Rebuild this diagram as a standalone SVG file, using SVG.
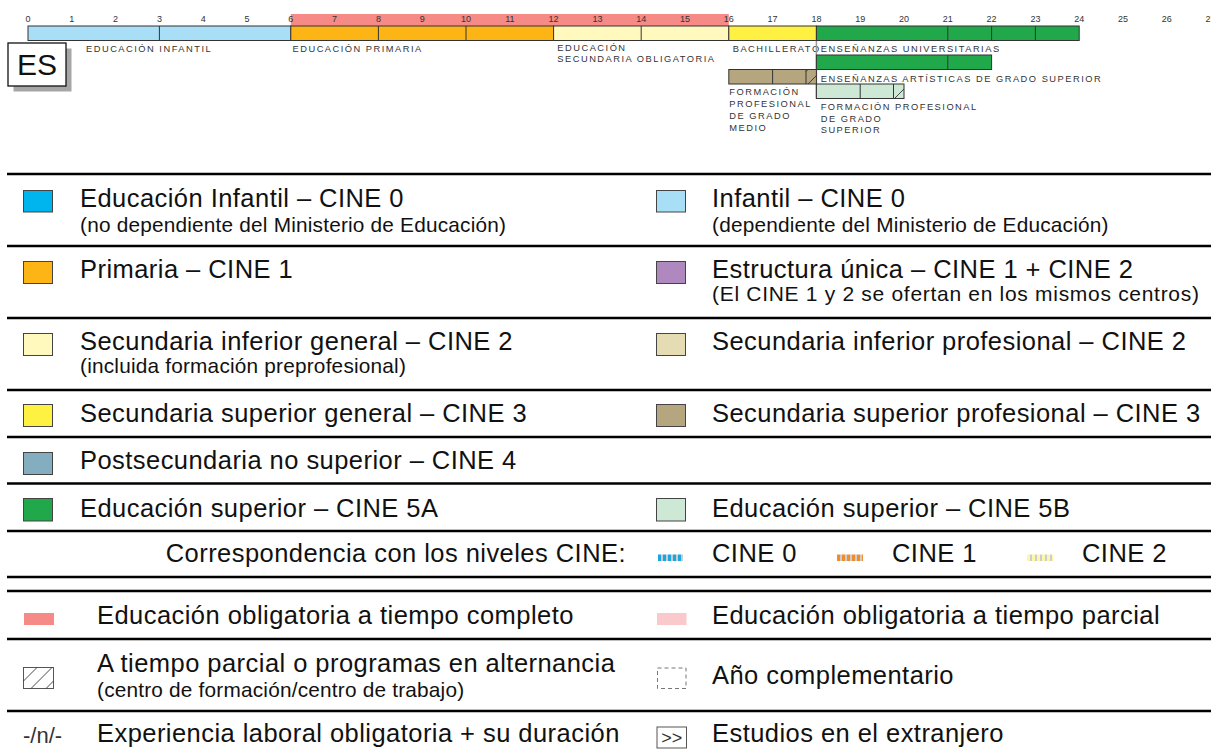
<svg xmlns="http://www.w3.org/2000/svg" width="1211" height="752" viewBox="0 0 1211 752">
<style>
text { font-family: "Liberation Sans", Arial, Helvetica, sans-serif; }
.tick { font-size: 9px; fill: #333; text-anchor: middle; }
.lab { font-size: 9.3px; fill: #333; letter-spacing: 1.5px; }
.main { font-size: 25.5px; letter-spacing: 0.45px; fill: #111; }
.sub { font-size: 20.8px; letter-spacing: 0.2px; fill: #111; }
.sw { stroke: #444; stroke-width: 1; }
.bar { stroke: #333; stroke-width: 1; }
.div { stroke: #333; stroke-width: 1; }
.sep { stroke: #000; stroke-width: 2.6; }
.hatch { stroke: #333; stroke-width: 0.9; fill: none; }
</style>
<defs>
<pattern id="pc0" x="658" y="554" width="5" height="8" patternUnits="userSpaceOnUse"><rect width="5" height="8" fill="#1AA6DF"/><rect x="3" width="2" height="8" fill="#C9CED3"/></pattern>
<pattern id="pc1" x="837" y="554" width="5" height="8" patternUnits="userSpaceOnUse"><rect width="5" height="8" fill="#F28C28"/><rect x="3" width="2" height="8" fill="#C9CED3"/></pattern>
<pattern id="pc2" x="1027" y="554" width="5" height="8" patternUnits="userSpaceOnUse"><rect width="5" height="8" fill="#FFF6A8"/><rect x="3" width="2" height="8" fill="#C9CED3"/></pattern>
</defs>
<rect width="1211" height="752" fill="#fff"/>

<g id="timeline">
  <rect id="compulsory-bar" x="290.8" y="14" width="438" height="12" fill="#F58A87"/>
  <g id="ticks">
    <text class="tick" x="28" y="22">0</text><text class="tick" x="71.8" y="22">1</text><text class="tick" x="115.6" y="22">2</text><text class="tick" x="159.4" y="22">3</text><text class="tick" x="203.2" y="22">4</text><text class="tick" x="247" y="22">5</text><text class="tick" x="290.8" y="22">6</text><text class="tick" x="334.6" y="22">7</text><text class="tick" x="378.4" y="22">8</text><text class="tick" x="422.2" y="22">9</text><text class="tick" x="466" y="22">10</text><text class="tick" x="509.8" y="22">11</text><text class="tick" x="553.6" y="22">12</text><text class="tick" x="597.4" y="22">13</text><text class="tick" x="641.2" y="22">14</text><text class="tick" x="685" y="22">15</text><text class="tick" x="728.8" y="22">16</text><text class="tick" x="772.6" y="22">17</text><text class="tick" x="816.4" y="22">18</text><text class="tick" x="860.2" y="22">19</text><text class="tick" x="904" y="22">20</text><text class="tick" x="947.8" y="22">21</text><text class="tick" x="991.6" y="22">22</text><text class="tick" x="1035.4" y="22">23</text><text class="tick" x="1079.2" y="22">24</text><text class="tick" x="1123" y="22">25</text><text class="tick" x="1166.8" y="22">26</text><text class="tick" x="1210.6" y="22">27</text>
  </g>
  <g id="es-badge">
    <rect x="13.5" y="48.5" width="58" height="43" fill="#A6A6A6"/>
    <rect x="8" y="43" width="58" height="43" fill="#fff" stroke="#111" stroke-width="1.3"/>
    <text x="37" y="75" font-size="30" text-anchor="middle" fill="#111">ES</text>
  </g>
  <g id="infantil">
    <rect class="bar" x="28" y="26" width="262.8" height="14.5" fill="#A9DEF7"/>
    <line class="div" x1="159.4" y1="26" x2="159.4" y2="40.5"/>
    <text class="lab" x="86" y="51.5">EDUCACIÓN INFANTIL</text>
  </g>
  <g id="primaria">
    <rect class="bar" x="290.8" y="26" width="262.8" height="14.5" fill="#FDB515"/>
    <line class="div" x1="378.4" y1="26" x2="378.4" y2="40.5"/>
    <line class="div" x1="466" y1="26" x2="466" y2="40.5"/>
    <text class="lab" x="292.5" y="51.5">EDUCACIÓN PRIMARIA</text>
  </g>
  <g id="eso">
    <rect class="bar" x="553.6" y="26" width="175.2" height="14.5" fill="#FFF9BE"/>
    <line class="div" x1="641.2" y1="26" x2="641.2" y2="40.5"/>
    <text class="lab" x="557.3" y="51">EDUCACIÓN</text>
    <text class="lab" x="557.3" y="62.3">SECUNDARIA OBLIGATORIA</text>
  </g>
  <g id="bachillerato">
    <rect class="bar" x="728.8" y="26" width="87.6" height="14.5" fill="#FFF142"/>
    <text class="lab" x="732.7" y="51.5">BACHILLERATO</text>
  </g>
  <line id="higher-edge" x1="816.4" y1="40.5" x2="816.4" y2="98.5" stroke="#999" stroke-width="1.5"/>
  <g id="universitarias">
    <rect class="bar" x="816.4" y="26" width="262.8" height="14.5" fill="#21A84B"/>
    <line class="div" x1="947.8" y1="26" x2="947.8" y2="40.5"/>
    <line class="div" x1="991.6" y1="26" x2="991.6" y2="40.5"/>
    <line class="div" x1="1035.4" y1="26" x2="1035.4" y2="40.5"/>
    <text class="lab" x="820.7" y="51.5">ENSEÑANZAS UNIVERSITARIAS</text>
  </g>
  <g id="artisticas">
    <rect class="bar" x="816.4" y="55" width="175.2" height="14.5" fill="#21A84B"/>
    <line class="div" x1="947.8" y1="55" x2="947.8" y2="69.5"/>
    <text class="lab" x="820.7" y="81.5">ENSEÑANZAS ARTÍSTICAS DE GRADO SUPERIOR</text>
  </g>
  <g id="fp-medio">
    <rect class="bar" x="728.8" y="69.5" width="87.6" height="14.5" fill="#B5A67F"/>
    <line class="div" x1="772.6" y1="69.5" x2="772.6" y2="84"/>
    <line class="div" x1="806" y1="69.5" x2="806" y2="84"/>
    <line class="hatch" x1="808" y1="84" x2="816.4" y2="75.6"/>
    <line class="hatch" x1="806" y1="71.5" x2="808" y2="69.5"/>
    <text class="lab" x="729.3" y="95">FORMACIÓN</text>
    <text class="lab" x="729.3" y="107">PROFESIONAL</text>
    <text class="lab" x="729.3" y="119">DE GRADO</text>
    <text class="lab" x="729.3" y="131">MEDIO</text>
  </g>
  <g id="fp-superior">
    <rect class="bar" x="816.4" y="84" width="87.6" height="14.5" fill="#CDE8D5"/>
    <line class="div" x1="860.2" y1="84" x2="860.2" y2="98.5"/>
    <line class="div" x1="893.5" y1="84" x2="893.5" y2="98.5"/>
    <line class="hatch" x1="894.5" y1="98.5" x2="904" y2="89"/>
    <text class="lab" x="820.7" y="110">FORMACIÓN PROFESIONAL</text>
    <text class="lab" x="820.7" y="121.5">DE GRADO</text>
    <text class="lab" x="820.7" y="133">SUPERIOR</text>
  </g>
</g>

<g id="separators">
  <line class="sep" x1="7" y1="174" x2="1211" y2="174"/>
  <line class="sep" x1="7" y1="246" x2="1211" y2="246"/>
  <line class="sep" x1="7" y1="318" x2="1211" y2="318"/>
  <line class="sep" x1="7" y1="390" x2="1211" y2="390"/>
  <line class="sep" x1="7" y1="437" x2="1211" y2="437"/>
  <line class="sep" x1="7" y1="483.5" x2="1211" y2="483.5"/>
  <line class="sep" x1="7" y1="531" x2="1211" y2="531"/>
  <line class="sep" x1="7" y1="577" x2="1211" y2="577"/>
  <line class="sep" x1="7" y1="591" x2="1211" y2="591"/>
  <line class="sep" x1="7" y1="639" x2="1211" y2="639"/>
  <line class="sep" x1="7" y1="711" x2="1211" y2="711"/>
</g>

<g id="legend-infantil-nd">
  <rect class="sw" x="23.5" y="190.5" width="29" height="21.5" fill="#00B4EE"/>
  <text class="main" x="80" y="206.5">Educación Infantil – CINE 0</text>
  <text class="sub" x="80" y="231.5">(no dependiente del Ministerio de Educación)</text>
</g>
<g id="legend-infantil-d">
  <rect class="sw" x="656.5" y="190.5" width="29" height="21.5" fill="#A9DEF7"/>
  <text class="main" x="712" y="206.5">Infantil – CINE 0</text>
  <text class="sub" x="712" y="231.5">(dependiente del Ministerio de Educación)</text>
</g>
<g id="legend-primaria">
  <rect class="sw" x="23.5" y="261.5" width="29" height="22" fill="#FDB515"/>
  <text class="main" x="80" y="278">Primaria – CINE 1</text>
</g>
<g id="legend-estructura">
  <rect class="sw" x="656.5" y="261.5" width="29" height="22" fill="#B088C0"/>
  <text class="main" x="712" y="277.5">Estructura única – CINE 1 + CINE 2</text>
  <text class="sub" x="712" y="300.5" style="font-size:21px;letter-spacing:0.7px">(El CINE 1 y 2 se ofertan en los mismos centros)</text>
</g>
<g id="legend-sec-inf-gen">
  <rect class="sw" x="23.5" y="333.5" width="29" height="22" fill="#FFF9BE"/>
  <text class="main" x="80" y="350">Secundaria inferior general – CINE 2</text>
  <text class="sub" x="80" y="373">(incluida formación preprofesional)</text>
</g>
<g id="legend-sec-inf-prof">
  <rect class="sw" x="656.5" y="333.5" width="29" height="22" fill="#E6DCB3"/>
  <text class="main" x="712" y="350">Secundaria inferior profesional – CINE 2</text>
</g>
<g id="legend-sec-sup-gen">
  <rect class="sw" x="23.5" y="404.5" width="29" height="22" fill="#FFF142"/>
  <text class="main" x="80" y="422">Secundaria superior general – CINE 3</text>
</g>
<g id="legend-sec-sup-prof">
  <rect class="sw" x="656.5" y="404.5" width="29" height="22" fill="#B5A67F"/>
  <text class="main" x="712" y="422">Secundaria superior profesional – CINE 3</text>
</g>
<g id="legend-postsec">
  <rect class="sw" x="23.5" y="452.5" width="29" height="22" fill="#84ADBF"/>
  <text class="main" x="80" y="469">Postsecundaria no superior – CINE 4</text>
</g>
<g id="legend-sup-5a">
  <rect class="sw" x="23.5" y="498.5" width="29" height="22.5" fill="#21A84B"/>
  <text class="main" x="80" y="517">Educación superior – CINE 5A</text>
</g>
<g id="legend-sup-5b">
  <rect class="sw" x="656.5" y="498.5" width="29" height="22.5" fill="#CDE8D5"/>
  <text class="main" x="712" y="517">Educación superior – CINE 5B</text>
</g>
<g id="legend-cine">
  <text class="main" x="626" y="562" text-anchor="end">Correspondencia con los niveles CINE:</text>
  <rect x="658" y="554.5" width="25" height="6.5" fill="url(#pc0)"/>
  <text class="main" x="712" y="562">CINE 0</text>
  <rect x="837" y="554.5" width="26" height="6.5" fill="url(#pc1)"/>
  <text class="main" x="892" y="562">CINE 1</text>
  <rect x="1027" y="554.5" width="26" height="6.5" fill="url(#pc2)"/>
  <text class="main" x="1082" y="562">CINE 2</text>
</g>
<g id="legend-obl-completo">
  <rect x="24" y="613" width="30" height="12" fill="#F58A87"/>
  <text class="main" x="97" y="624">Educación obligatoria a tiempo completo</text>
</g>
<g id="legend-obl-parcial">
  <rect x="657" y="613" width="29.5" height="12" fill="#F9C9CC"/>
  <text class="main" x="712" y="624">Educación obligatoria a tiempo parcial</text>
</g>
<g id="legend-alternancia">
  <rect x="23.5" y="667.5" width="30" height="21" fill="#fff" stroke="#555" stroke-width="1"/>
  <line class="hatch" x1="23.5" y1="681" x2="37" y2="667.5"/>
  <line class="hatch" x1="31" y1="688.5" x2="52" y2="667.5"/>
  <line class="hatch" x1="46" y1="688.5" x2="53.5" y2="681"/>
  <text class="main" x="97" y="672">A tiempo parcial o programas en alternancia</text>
  <text class="sub" x="97" y="697">(centro de formación/centro de trabajo)</text>
</g>
<g id="legend-ano-comp">
  <rect x="657.5" y="668" width="28.5" height="20.5" fill="none" stroke="#777" stroke-width="1" stroke-dasharray="4 3"/>
  <text class="main" x="712" y="684">Año complementario</text>
</g>
<g id="legend-experiencia">
  <text x="23" y="743" font-size="22" fill="#333">-/n/-</text>
  <text class="main" x="97" y="742">Experiencia laboral obligatoria + su duración</text>
</g>
<g id="legend-extranjero">
  <rect x="657" y="727" width="29.5" height="21" fill="#fff" stroke="#555" stroke-width="1"/>
  <text x="671.7" y="744" font-size="18" text-anchor="middle" fill="#333">&gt;&gt;</text>
  <text class="main" x="712" y="742">Estudios en el extranjero</text>
</g>
</svg>
